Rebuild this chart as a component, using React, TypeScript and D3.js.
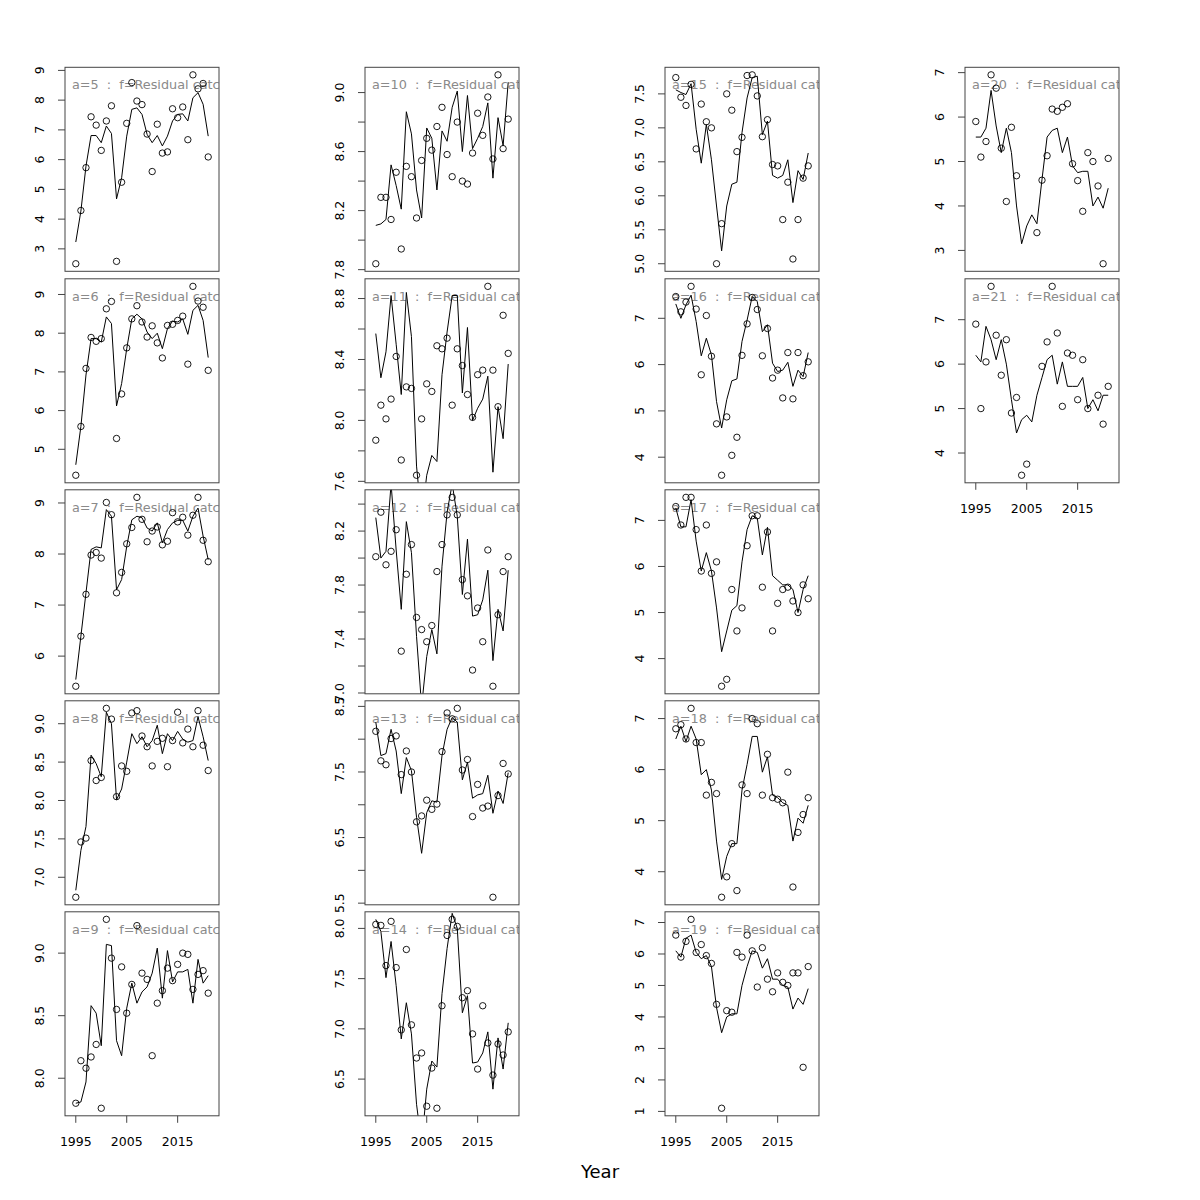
import { useEffect } from "react";
import * as d3 from "d3";

// observation years
const years = [
  1995, 1996, 1997, 1998, 1999, 2000, 2001, 2002, 2003, 2004, 2005, 2006, 2007, 2008,
  2009, 2010, 2011, 2012, 2013, 2014, 2015, 2016, 2017, 2018, 2019, 2020, 2021,
];
const xTicks = [1995, 2005, 2015];

// observed (points) and fitted (line) values per age
const obsA5 = [2.5, 4.29, 5.73, 7.44, 7.16, 6.31, 7.3, 7.81, 2.58, 5.24, 7.22, 8.59, 7.97, 7.85, 6.86, 5.6, 7.19, 6.22, 6.26, 7.71, 7.41, 7.77, 6.67, 8.85, 8.38, 8.56, 6.09];
const fitA5 = [3.23, 4.27, 5.78, 6.81, 6.81, 6.57, 7.13, 6.88, 4.68, 5.39, 6.79, 7.69, 7.74, 7.52, 6.85, 6.57, 6.81, 6.46, 6.79, 7.3, 7.52, 7.54, 7.3, 8.08, 8.25, 7.86, 6.79];
const obsA6 = [4.33, 5.59, 7.09, 7.89, 7.79, 7.86, 8.63, 8.82, 5.28, 6.43, 7.62, 8.37, 8.71, 8.29, 7.9, 8.19, 7.75, 7.36, 8.2, 8.23, 8.33, 8.44, 7.2, 9.21, 8.83, 8.67, 7.04];
const fitA6 = [4.6, 5.59, 6.92, 7.86, 7.86, 7.77, 8.42, 8.25, 6.12, 6.7, 7.6, 8.37, 8.49, 8.37, 8.03, 7.86, 8.0, 7.6, 8.12, 8.31, 8.29, 8.37, 7.97, 8.59, 8.72, 8.33, 7.37];
const obsA7 = [5.41, 6.39, 7.21, 7.98, 8.03, 7.92, 9.01, 8.77, 7.24, 7.64, 8.2, 8.52, 9.11, 8.68, 8.24, 8.45, 8.53, 8.18, 8.25, 8.81, 8.63, 8.72, 8.37, 8.76, 9.11, 8.27, 7.85];
const fitA7 = [5.54, 6.39, 7.24, 8.09, 8.14, 8.12, 8.87, 8.74, 7.3, 7.5, 8.15, 8.67, 8.74, 8.71, 8.51, 8.45, 8.61, 8.22, 8.48, 8.61, 8.66, 8.66, 8.45, 8.74, 8.9, 8.35, 7.89];
const obsA8 = [6.74, 7.46, 7.51, 8.52, 8.26, 8.3, 9.2, 9.06, 8.05, 8.45, 8.38, 9.14, 9.17, 8.84, 8.7, 8.45, 8.77, 8.81, 8.44, 8.78, 9.15, 8.75, 8.93, 8.7, 9.17, 8.72, 8.39];
const fitA8 = [6.83, 7.35, 7.66, 8.59, 8.48, 8.31, 9.15, 9.0, 8.01, 8.15, 8.5, 8.87, 8.74, 8.83, 8.7, 8.78, 8.98, 8.61, 8.87, 8.78, 8.9, 8.8, 8.76, 8.78, 9.09, 8.83, 8.52];
const obsA9 = [7.8, 8.14, 8.08, 8.17, 8.27, 7.76, 9.27, 8.96, 8.55, 8.89, 8.52, 8.75, 9.22, 8.84, 8.79, 8.18, 8.6, 8.7, 8.88, 8.78, 8.91, 9.0, 8.99, 8.71, 8.83, 8.86, 8.68];
const fitA9 = [7.8, 7.81, 7.97, 8.58, 8.52, 8.26, 9.07, 9.06, 8.3, 8.18, 8.56, 8.76, 8.6, 8.69, 8.73, 8.84, 9.04, 8.64, 9.02, 8.77, 8.85, 8.85, 8.87, 8.6, 8.95, 8.76, 8.82];
const obsA10 = [7.84, 8.29, 8.29, 8.14, 8.46, 7.94, 8.5, 8.43, 8.15, 8.54, 8.69, 8.61, 8.77, 8.9, 8.58, 8.43, 8.8, 8.4, 8.38, 8.59, 8.86, 8.71, 8.97, 8.55, 9.12, 8.62, 8.82];
const fitA10 = [8.1, 8.11, 8.14, 8.51, 8.37, 8.21, 8.87, 8.72, 8.34, 8.15, 8.76, 8.69, 8.34, 8.74, 8.67, 8.9, 9.01, 8.6, 8.98, 8.62, 8.69, 8.77, 8.93, 8.42, 8.83, 8.64, 9.07];
const obsA11 = [7.87, 8.1, 8.01, 8.14, 8.42, 7.74, 8.22, 8.21, 7.64, 8.01, 8.24, 8.19, 8.49, 8.47, 8.54, 8.1, 8.47, 8.36, 8.17, 8.02, 8.3, 8.33, 8.88, 8.33, 8.09, 8.69, 8.44];
const fitA11 = [8.57, 8.28, 8.45, 8.82, 8.5, 8.17, 8.84, 8.55, 7.7, 7.35, 7.64, 7.77, 7.73, 8.3, 8.58, 8.82, 8.82, 8.18, 8.61, 8.0, 8.08, 8.14, 8.29, 7.66, 8.09, 7.88, 8.37];
const obsA12 = [8.01, 8.34, 7.95, 8.05, 8.21, 7.31, 7.88, 8.1, 7.56, 7.47, 7.38, 7.5, 7.9, 8.1, 8.32, 8.45, 8.32, 7.84, 7.72, 7.17, 7.63, 7.38, 8.06, 7.05, 7.58, 7.9, 8.01];
const fitA12 = [8.3, 8.0, 8.05, 8.55, 8.06, 7.62, 8.27, 8.04, 7.42, 6.9, 7.27, 7.47, 7.29, 7.94, 8.34, 8.55, 8.31, 7.73, 8.14, 7.57, 7.58, 7.69, 7.91, 7.24, 7.62, 7.46, 7.91];
const obsA13 = [8.12, 7.67, 7.61, 8.01, 8.05, 7.46, 7.82, 7.5, 6.74, 6.83, 7.07, 6.93, 7.01, 7.81, 8.4, 8.31, 8.47, 7.53, 7.69, 6.82, 7.31, 6.95, 6.98, 5.59, 7.14, 7.63, 7.47];
const fitA13 = [8.26, 7.75, 7.78, 8.15, 7.82, 7.17, 7.72, 7.52, 6.81, 6.26, 6.88, 7.06, 7.04, 7.75, 8.15, 8.33, 8.26, 7.38, 7.65, 7.1, 7.15, 7.17, 7.45, 6.87, 7.21, 7.02, 7.49];
const obsA14 = [8.04, 8.03, 7.63, 8.07, 7.61, 6.99, 7.79, 7.04, 6.71, 6.76, 6.23, 6.61, 6.21, 7.23, 7.93, 8.09, 8.02, 7.31, 7.38, 6.95, 6.6, 7.23, 6.86, 6.54, 6.85, 6.74, 6.97];
const fitA14 = [8.09, 7.97, 7.51, 7.87, 7.43, 6.9, 7.26, 6.95, 6.25, 5.85, 6.4, 6.68, 6.62, 7.35, 7.8, 8.15, 8.0, 7.16, 7.33, 6.66, 6.67, 6.76, 6.97, 6.4, 6.91, 6.6, 7.06];
const obsA15 = [7.74, 7.45, 7.33, 7.64, 6.69, 7.35, 7.09, 7.0, 5.0, 5.59, 7.5, 7.26, 6.65, 6.86, 7.77, 7.78, 7.47, 6.87, 7.12, 6.46, 6.44, 5.65, 6.2, 5.07, 5.65, 6.26, 6.44];
const fitA15 = [7.56, 7.52, 7.49, 7.65, 6.98, 6.48, 7.05, 6.53, 5.85, 5.19, 5.85, 6.17, 6.2, 6.93, 7.44, 7.74, 7.76, 6.9, 7.1, 6.3, 6.26, 6.3, 6.53, 5.9, 6.37, 6.24, 6.63];
const obsA16 = [7.47, 7.14, 7.35, 7.69, 7.2, 5.78, 7.06, 6.18, 4.72, 3.61, 4.87, 4.04, 4.43, 6.2, 6.88, 7.45, 7.19, 6.19, 6.78, 5.71, 5.88, 5.28, 6.26, 5.26, 6.26, 5.76, 6.06];
const fitA16 = [7.31, 7.0, 7.29, 7.5, 6.93, 6.19, 6.57, 6.21, 5.2, 4.63, 5.24, 5.65, 5.69, 6.5, 6.96, 7.47, 7.36, 6.71, 6.86, 6.03, 5.85, 5.88, 6.05, 5.53, 5.88, 5.74, 6.26];
const obsA17 = [7.3, 6.9, 7.5, 7.5, 6.8, 5.9, 6.9, 5.85, 6.1, 3.4, 3.55, 5.5, 4.6, 5.1, 6.45, 7.1, 7.1, 5.55, 6.75, 4.6, 5.2, 5.5, 5.55, 5.25, 5.0, 5.6, 5.3];
const fitA17 = [7.27, 6.86, 6.86, 7.45, 6.55, 5.9, 6.3, 5.9, 5.1, 4.15, 4.6, 5.05, 5.15, 6.1, 6.8, 7.1, 7.05, 6.25, 6.85, 5.8, 5.7, 5.6, 5.6, 5.5, 5.0, 5.5, 5.8];
const obsA18 = [6.8, 6.88, 6.6, 7.2, 6.53, 6.53, 5.5, 5.75, 5.53, 3.5, 3.9, 4.55, 3.63, 5.7, 5.53, 7.0, 6.9, 5.5, 6.3, 5.45, 5.42, 5.35, 5.95, 3.7, 4.77, 5.12, 5.45];
const fitA18 = [6.6, 6.85, 6.55, 6.85, 6.6, 5.9, 6.0, 5.6, 4.6, 3.85, 4.3, 4.55, 4.55, 5.6, 6.1, 6.65, 6.65, 5.95, 6.25, 5.5, 5.45, 5.35, 5.3, 4.6, 5.05, 4.95, 5.3];
const obsA19 = [6.6, 5.9, 6.4, 7.1, 6.05, 6.3, 5.95, 5.7, 4.4, 1.1, 4.2, 4.15, 6.05, 5.9, 6.6, 6.1, 4.95, 6.2, 5.2, 4.8, 5.4, 5.1, 5.0, 5.4, 5.4, 2.4, 5.6];
const fitA19 = [6.1, 5.9, 6.5, 6.6, 6.05, 5.85, 5.95, 5.6, 4.3, 3.5, 4.0, 4.1, 4.1, 5.0, 5.6, 6.1, 6.05, 5.55, 5.85, 5.2, 5.2, 5.0, 4.95, 4.25, 4.6, 4.4, 4.9];
const obsA20 = [5.9, 5.1, 5.45, 6.95, 6.65, 5.3, 4.1, 5.77, 4.68, null, null, null, 3.4, 4.58, 5.13, 6.18, 6.13, 6.22, 6.3, 4.95, 4.57, 3.88, 5.2, 5.0, 4.45, 2.7, 5.07];
const fitA20 = [5.55, 5.55, 5.75, 6.6, 5.8, 5.2, 5.75, 5.2, 4.0, 3.15, 3.55, 3.8, 3.6, 4.6, 5.55, 5.7, 5.75, 5.2, 5.55, 4.9, 4.75, 4.78, 4.78, 4.0, 4.2, 3.95, 4.4];
const obsA21 = [6.9, 5.0, 6.05, 7.75, 6.65, 5.75, 6.55, 4.9, 5.25, 3.5, 3.75, null, null, 5.95, 6.5, 7.75, 6.7, 5.05, 6.25, 6.2, 5.2, 6.1, 5.0, null, 5.3, 4.65, 5.5];
const fitA21 = [6.2, 6.05, 6.85, 6.55, 6.1, 6.55, 6.0, 5.2, 4.45, 4.75, 4.85, 4.7, 5.3, 5.7, 6.1, 6.2, 5.55, 6.05, 5.5, 5.5, 5.5, 5.7, 5.0, 5.2, 4.95, 5.3, 5.3];

const panels = [
  { age: 5, obs: obsA5, fit: fitA5 },
  { age: 6, obs: obsA6, fit: fitA6 },
  { age: 7, obs: obsA7, fit: fitA7 },
  { age: 8, obs: obsA8, fit: fitA8 },
  { age: 9, obs: obsA9, fit: fitA9 },
  { age: 10, obs: obsA10, fit: fitA10 },
  { age: 11, obs: obsA11, fit: fitA11 },
  { age: 12, obs: obsA12, fit: fitA12 },
  { age: 13, obs: obsA13, fit: fitA13 },
  { age: 14, obs: obsA14, fit: fitA14 },
  { age: 15, obs: obsA15, fit: fitA15 },
  { age: 16, obs: obsA16, fit: fitA16 },
  { age: 17, obs: obsA17, fit: fitA17 },
  { age: 18, obs: obsA18, fit: fitA18 },
  { age: 19, obs: obsA19, fit: fitA19 },
  { age: 20, obs: obsA20, fit: fitA20 },
  { age: 21, obs: obsA21, fit: fitA21 },
];

const FONT = "'DejaVu Sans', sans-serif";
const PW = 154;
const PH = 204;
const colX = [65, 365, 665, 965];
const rowY = [67.3, 278.8, 489.8, 700.8, 911.8];
const TICK = 7;
const FS = 12.5;
// minimum gap between neighbouring tick labels (R drops overlapping ones)
const LABEL_GAP = 13.5;

function labelWidth(s: string) {
  let w = 0;
  for (const ch of s) w += ch === "." ? 0.318 : 0.636;
  return w * FS;
}

type PanelProps = {
  age: number;
  obs: (number | null)[];
  fit: (number | null)[];
  x0: number;
  y0: number;
  showX: boolean;
};

function Panel({ age, obs, fit, x0, y0, showX }: PanelProps) {
  const vals = obs.filter((v) => v != null) as number[];
  const [lo, hi] = d3.extent(vals) as [number, number];
  const pad = (hi - lo) * 0.04;
  const y = d3.scaleLinear().domain([lo - pad, hi + pad]).range([PH, 0]);
  const x = d3.scaleLinear().domain([1992.88, 2023.12]).range([0, PW]);
  const line = d3
    .line<number | null>()
    .defined((v) => v != null)
    .x((_, i) => x(years[i]))
    .y((v) => y(v as number));

  const ticks = y.ticks(5);
  const fmt = y.tickFormat(5);
  let lastEnd = -Infinity;
  const yLabels: { t: number; s: string }[] = [];
  ticks.forEach((t) => {
    const s = fmt(t);
    const pos = PH - y(t);
    const w = labelWidth(s);
    if (pos - w / 2 >= lastEnd + LABEL_GAP) {
      yLabels.push({ t, s });
      lastEnd = pos + w / 2;
    }
  });

  const clipId = `clip-a${age}`;
  return (
    <g transform={`translate(${x0},${y0})`}>
      <defs>
        <clipPath id={clipId}>
          <rect x={0} y={0} width={PW} height={PH} />
        </clipPath>
      </defs>
      <g clipPath={`url(#${clipId})`}>
        <text x={7} y={22} fontSize={12.8} fill="#8a8a8a" style={{ whiteSpace: "pre" }}>
          {`a=${age}  :  f=Residual catch`}
        </text>
        <path d={line(fit) ?? ""} fill="none" stroke="#000" strokeWidth={1} />
        {obs.map((v, i) =>
          v == null ? null : (
            <circle
              key={i}
              cx={x(years[i])}
              cy={y(v)}
              r={3.2}
              fill="none"
              stroke="#000"
              strokeWidth={0.9}
            />
          )
        )}
      </g>
      <rect x={0} y={0} width={PW} height={PH} fill="none" stroke="#444" strokeWidth={1} />
      {ticks.map((t) => (
        <line key={t} x1={0} x2={-TICK} y1={y(t)} y2={y(t)} stroke="#444" />
      ))}
      {yLabels.map(({ t, s }) => (
        <text
          key={t}
          transform={`translate(${-21},${y(t)}) rotate(-90)`}
          textAnchor="middle"
          fontSize={FS}
          fill="#000"
        >
          {s}
        </text>
      ))}
      {showX && (
        <g>
          {xTicks.map((t) => (
            <g key={t}>
              <line x1={x(t)} x2={x(t)} y1={PH} y2={PH + TICK} stroke="#444" />
              <text x={x(t)} y={PH + 30} textAnchor="middle" fontSize={FS}>
                {t}
              </text>
            </g>
          ))}
        </g>
      )}
    </g>
  );
}

export default function App() {
  useEffect(() => {
    document.body.style.margin = "0";
  }, []);
  return (
    <svg
      width={1200}
      height={1200}
      viewBox="0 0 1200 1200"
      style={{ display: "block", background: "#fff" }}
      fontFamily={FONT}
    >
      <rect width={1200} height={1200} fill="#fff" />
      {panels.map((p, i) => {
        const col = Math.floor(i / 5);
        const row = i % 5;
        return (
          <Panel
            key={p.age}
            {...p}
            x0={colX[col]}
            y0={rowY[row]}
            showX={row === 4 || p.age === 21}
          />
        );
      })}
      <text x={600} y={1178} textAnchor="middle" fontSize={18}>
        Year
      </text>
    </svg>
  );
}
